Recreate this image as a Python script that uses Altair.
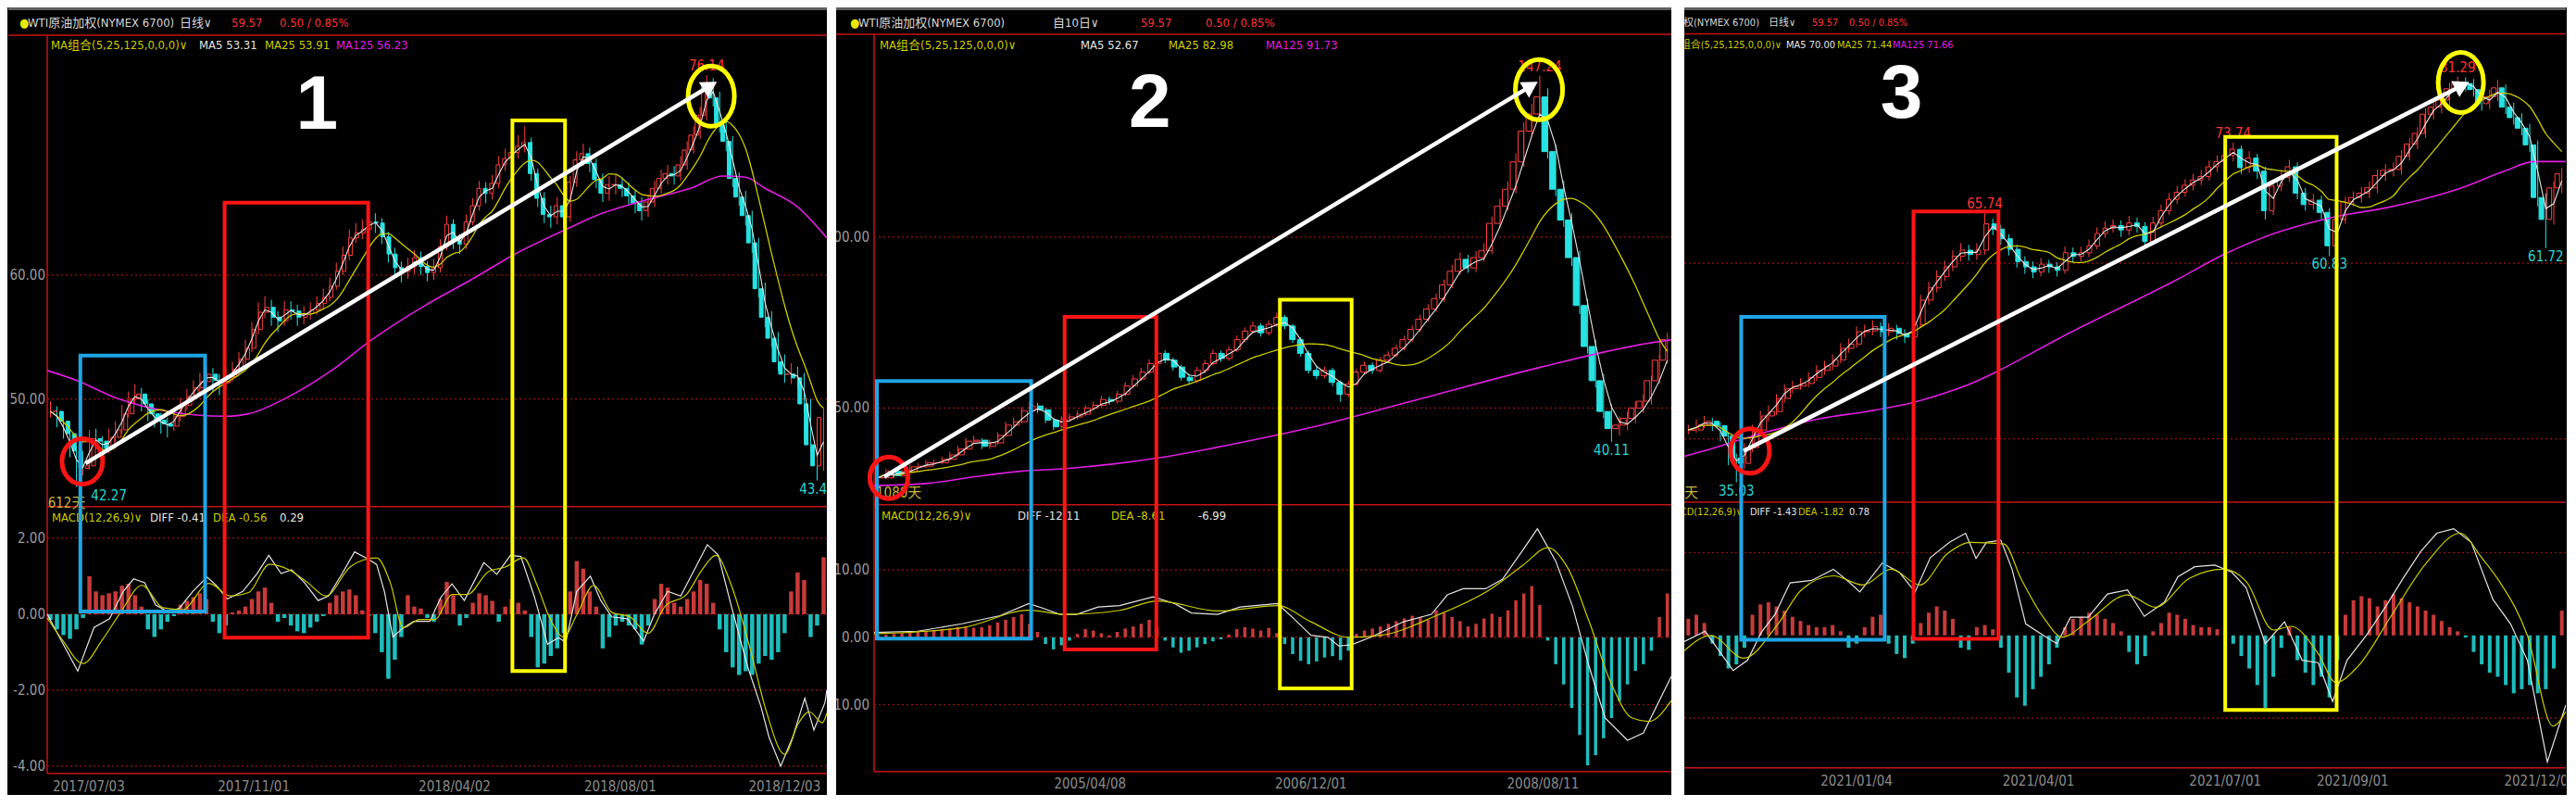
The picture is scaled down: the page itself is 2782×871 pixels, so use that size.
import math
import altair as alt
import pandas as pd

# ====================== PANEL 1 : WTI daily 2017-2018 ======================
p1_close = [49.0,48.2,47.2,45.8,44.4,44.6,46.8,46.6,46.0,46.9,
            47.5,48.8,50.0,50.4,49.6,48.8,48.3,48.0,47.8,48.6,
            49.5,50.2,50.9,51.4,52.0,51.5,51.3,51.8,52.4,53.2,
            54.1,55.6,57.0,57.4,56.6,56.3,57.2,57.1,56.6,56.9,
            57.2,57.7,58.2,59.1,60.3,61.6,63.0,63.4,63.7,64.3,
            64.2,63.1,61.7,60.6,60.3,60.7,61.4,60.7,60.2,60.6,
            62.3,64.1,62.8,62.5,64.3,65.6,67.0,66.6,67.4,68.9,
            69.4,69.9,70.4,70.7,68.2,66.2,64.9,64.7,65.6,64.7,
            67.5,69.3,69.8,69.0,67.7,66.6,67.3,67.3,67.0,66.4,
            65.8,65.2,65.9,67.0,67.8,68.2,68.0,68.9,70.1,71.3,
            72.9,75.3,74.3,72.1,70.8,67.8,66.3,64.8,62.6,58.9,
            56.6,54.9,53.0,52.0,52.0,51.7,49.6,46.3,44.6,48.5]
p1_high = [49.8,49.4,48.6,47.5,46.2,45.3,47.5,47.6,47.0,47.6,
           48.2,49.5,50.6,51.2,50.9,50.0,49.3,48.9,48.5,49.2,
           50.1,50.8,51.5,52.1,52.6,52.5,52.0,52.4,53.0,53.8,
           54.8,56.2,57.8,58.3,58.0,57.1,57.9,57.9,57.6,57.5,
           57.8,58.3,58.9,59.8,61.0,62.3,63.7,64.2,64.5,65.2,
           65.0,64.6,63.5,62.2,61.1,61.4,62.0,61.9,61.1,61.3,
           62.9,64.8,64.5,63.3,64.9,66.2,67.6,67.5,68.1,69.6,
           70.2,70.6,71.3,72.0,71.1,68.6,66.7,65.6,66.3,66.0,
           68.0,70.0,70.6,70.3,69.4,68.2,68.0,68.1,67.9,67.5,
           66.9,66.3,66.5,67.6,68.5,68.9,68.8,69.6,70.8,72.0,
           73.6,76.14,75.9,74.8,72.6,71.2,68.3,66.8,65.2,63.0,
           59.4,57.1,55.4,53.6,52.9,52.6,52.1,50.0,46.7,49.2]
p1_low = [48.5,47.7,46.8,45.3,42.9,43.8,44.3,46.0,45.5,45.6,
          46.5,47.2,48.5,49.6,49.0,48.2,47.7,47.2,46.9,47.4,
          48.2,49.1,49.8,50.5,51.0,50.6,50.3,50.8,51.4,52.0,
          52.8,53.8,55.2,56.5,55.9,55.4,55.9,56.4,55.9,56.0,
          56.4,56.8,57.3,57.9,58.8,60.0,61.2,62.6,62.9,63.2,
          63.4,62.5,61.0,59.9,59.4,59.7,60.1,60.0,59.5,59.6,
          60.2,62.0,62.1,61.7,62.1,64.0,65.2,65.8,66.1,67.0,
          68.4,68.8,69.4,69.9,67.6,65.5,64.2,63.8,64.1,63.8,
          64.3,67.1,68.8,68.3,67.0,65.9,66.0,66.5,66.3,65.7,
          65.0,64.4,64.7,65.5,66.6,67.3,67.3,67.6,68.5,69.8,
          71.0,72.5,73.6,71.5,70.0,67.1,65.6,64.0,61.8,58.2,
          55.8,54.2,52.3,51.3,51.2,50.9,48.9,45.6,43.42,44.2]
p1_hist = [-0.15,-0.4,-0.55,-0.65,-0.4,-0.1,1.0,0.6,0.5,0.55,
           0.6,0.75,0.8,0.5,0.2,-0.4,-0.6,-0.4,-0.2,-0.05,
           0.25,0.35,0.45,0.55,0.4,-0.2,-0.5,-0.3,0.05,0.1,
           0.2,0.4,0.6,0.7,0.3,-0.2,-0.1,-0.3,-0.45,-0.5,
           -0.35,-0.2,-0.05,0.3,0.5,0.6,0.65,0.5,0.1,-0.05,
           -0.5,-1.0,-1.7,-1.2,-0.6,0.5,0.2,0.15,-0.1,-0.2,
           0.4,0.85,0.5,-0.3,-0.1,0.3,0.55,0.5,0.35,-0.2,
           0.2,0.4,0.3,0.1,-0.6,-1.4,-1.3,-1.1,-0.9,-0.5,
           0.6,1.4,1.2,0.6,0.2,-0.9,-0.6,-0.3,-0.2,-0.3,
           -0.4,-0.8,-0.3,0.4,0.8,0.7,0.3,0.2,0.4,0.6,
           0.9,0.8,0.3,-0.4,-1.0,-1.4,-1.6,-1.5,-1.6,-1.3,
           -1.1,-1.2,-1.0,-0.5,0.6,1.1,0.9,-0.6,-0.3,1.5]
p1_ma125_idx = [-0.5,4,10,18,27,30.5,36,43,49.5,57.5,65,71.5,79,84,92,98.5,103.5,107,110,115,119.5]
p1_ma125 = [52.3,51.5,50.1,49.0,48.6,48.8,50.0,52.2,54.8,57.5,59.7,61.7,63.6,64.8,66.1,67.0,68.0,67.9,67.0,65.5,63.0]
p1_diff_idx = [-0.5,1.8,4.2,6.7,9.1,11.2,12.8,14.5,16.2,18.2,19.9,21.9,24.1,25.5,27.2,29.6,31.8,33.6,35.5,37.1,
               39.1,41.2,42.8,44.9,46.8,48.6,50.2,51.4,52.7,54.3,55.9,58.4,60.1,61.8,63.7,66.7,68.7,70.8,72.4,74.5,
               76.5,78.2,79.3,81.0,83.1,84.7,86.4,88.8,91.3,92.9,95.0,97.0,99.1,101.1,102.8,104.8,107.3,109.3,110.6,112.4,
               114.3,116.1,117.5,119.2,119.5]
p1_diff = [0.0,-0.74,-1.5,-0.35,-0.12,0.6,0.93,0.83,0.24,0.05,0.17,0.6,0.98,0.76,0.4,0.6,1.07,1.55,1.07,1.17,
           0.83,0.36,0.48,1.07,1.64,1.48,1.31,0.6,-0.6,-0.36,-0.19,-0.19,0.45,0.8,0.36,1.36,1.05,1.55,1.52,0.45,
           -0.79,-0.62,-0.74,0.6,1.0,0.36,-0.07,-0.12,-0.71,-0.02,0.6,0.48,1.17,1.83,1.55,0.21,-1.38,-2.4,-3.24,-4.0,
           -3.21,-2.21,-3.05,-2.33,-2.0]
p1_dea_idx = [-0.5,1.8,5.0,8.0,10.8,14.1,17.3,20.3,24.4,27.7,30.5,33.7,36.7,39.6,42.4,46.1,48.2,50.2,52.3,54.3,
              56.8,59.2,61.8,64.2,67.4,70.0,72.8,74.9,76.9,79.0,81.0,83.6,86.4,89.2,92.0,94.6,97.9,100.3,102.4,104.8,
              107.8,110.2,113.0,115.1,116.8,118.8,119.5]
p1_dea = [-0.1,-0.67,-1.3,-0.67,0.05,0.76,0.17,0.12,0.81,0.48,0.57,1.31,1.17,0.83,0.48,1.24,1.43,1.48,0.83,-0.36,
          -0.14,-0.14,0.52,0.52,1.12,1.24,1.48,0.76,-0.12,-0.6,-0.02,0.76,0.05,-0.07,-0.5,0.21,0.52,1.17,1.55,0.76,
          -0.98,-2.57,-3.69,-2.88,-2.57,-2.86,-2.6]
p1_date_idx = [5.9, 31.3, 62.2, 87.7, 113.0]
p1_dates = ["2017/07/03", "2017/11/01", "2018/04/02", "2018/08/01", "2018/12/03"]

# ====================== PANEL 2 : WTI 10-day bars 2003-2009 ======================
p2_close = [29.6,31.5,30.2,31.4,32.8,33.0,34.0,34.0,35.0,36.3,
            38.0,40.3,40.6,38.8,39.8,42.0,45.0,46.0,49.2,50.6,
            49.5,46.5,44.5,46.8,47.4,48.2,50.0,50.8,52.5,52.0,
            54.0,56.5,58.5,60.5,63.0,66.0,64.0,62.0,59.0,58.0,
            61.0,63.0,66.0,64.5,67.0,70.0,72.5,74.0,72.0,74.5,
            76.5,74.0,70.0,66.0,61.0,59.5,61.0,57.5,54.0,57.0,
            60.5,62.5,61.0,64.0,65.5,67.5,70.0,73.0,76.0,79.0,
            82.0,86.0,90.0,93.5,91.0,94.0,96.0,104.0,109.0,114.0,
            122.0,131.0,136.0,141.0,125.0,114.0,105.0,94.0,80.0,68.0,
            58.0,49.0,44.0,45.0,47.0,50.0,52.0,58.0,64.0,70.0]
p2_high = [30.4,32.2,31.9,32.0,33.5,33.9,34.8,34.9,35.8,37.2,
           38.9,41.3,41.9,41.2,40.8,42.9,46.0,47.2,50.3,51.9,
           51.5,50.0,47.1,47.6,48.4,49.2,50.9,51.9,53.6,53.4,
           55.0,57.6,59.7,61.8,64.3,67.6,66.9,64.8,62.7,60.0,
           62.0,64.1,67.2,66.8,68.1,71.2,73.6,75.3,74.8,75.6,
           77.9,77.3,74.6,70.7,66.8,62.0,62.1,61.8,58.1,58.0,
           61.4,63.6,63.3,65.0,66.6,68.6,71.1,74.2,77.3,80.4,
           83.5,87.6,91.8,95.5,94.8,96.0,98.2,106.0,111.2,116.3,
           124.5,133.6,139.0,147.24,143.5,127.0,116.5,107.0,96.0,82.0,
           70.0,60.0,51.0,47.5,49.0,52.0,54.0,59.5,65.5,72.0]
p2_low = [28.9,29.2,29.6,29.8,31.0,32.2,32.5,33.2,33.5,34.6,
          35.9,37.6,39.5,38.0,38.1,39.2,41.5,44.3,45.5,48.5,
          48.6,45.6,43.6,44.0,46.0,46.7,47.6,49.2,50.2,51.0,
          51.3,53.4,55.8,57.9,59.8,62.3,63.0,61.0,58.0,56.9,
          57.3,60.2,62.4,63.5,63.8,66.4,69.3,71.7,70.9,71.2,
          73.8,73.0,69.0,65.0,60.0,58.4,58.7,56.4,51.8,53.2,
          56.4,59.8,60.0,60.4,63.2,64.8,66.8,69.3,72.2,75.2,
          78.2,81.0,85.0,89.0,89.6,89.8,92.8,95.0,102.8,107.8,
          112.8,120.5,129.4,134.5,123.0,112.0,103.0,91.5,77.5,66.0,
          56.0,47.0,40.11,42.0,43.5,45.5,48.5,51.0,57.0,63.0]
p2_hist = [0.3,0.4,0.5,0.6,0.7,0.8,0.9,1.0,1.2,1.3,
           1.5,1.6,1.4,1.5,1.8,2.2,2.6,3.0,3.4,2.0,
           0.8,-1.0,-1.8,-1.2,-0.5,0.5,1.2,1.0,0.6,0.3,
           0.8,1.3,1.6,2.0,2.6,1.5,-0.5,-1.5,-2.3,-2.0,
           -1.5,-1.0,-0.6,-0.3,0.4,1.2,1.5,1.3,1.0,1.4,
           0.6,-1.0,-2.5,-3.5,-4.0,-3.6,-3.0,-2.8,-3.4,-2.0,
           0.5,1.0,1.3,1.6,2.0,2.4,2.8,3.2,3.0,2.6,
           4.0,3.6,3.0,2.4,1.6,2.0,2.8,3.5,3.0,4.0,
           5.5,6.5,7.6,4.8,-0.5,-4.0,-7.0,-10.5,-14.5,-19.0,
           -17.5,-15.0,-12.0,-9.5,-7.0,-5.0,-4.0,-2.0,3.0,6.5]
p2_ma125_idx = [-0.5,6.3,12.1,17.8,23.6,29.4,35.1,46.1,54.6,66.9,83.2,95.5,99.5]
p2_ma125 = [27.3,28.0,29.9,31.5,32.3,33.6,35.4,40.2,44.5,52.0,62.0,68.5,70.0]
p2_diff_idx = [-0.5,5.0,10.5,15.3,18.9,20.7,22.8,24.9,27.6,30.3,34.5,37.2,39.3,42.6,45.4,50.1,52.2,54.3,56.4,57.8,
               59.4,61.8,65.9,69.4,71.4,73.4,76.2,78.3,80.9,82.7,85.0,87.1,89.2,91.2,94.0,96.0,99.5]
p2_diff = [0.7,0.9,2.0,3.2,5.0,4.3,3.4,3.4,4.5,4.7,6.0,5.0,3.6,3.4,4.5,5.0,2.7,0.3,0.0,-1.3,
           -1.1,0.0,2.3,3.4,6.3,7.2,7.2,8.6,13.0,16.1,11.3,4.6,-4.4,-12.0,-15.3,-14.2,-5.8]
p2_dea_idx = [-0.5,10.5,18.9,23.5,30.3,35.1,42.6,50.1,54.3,59.0,63.1,70.0,76.9,80.9,84.0,86.5,89.2,91.9,94.6,96.7,99.5]
p2_dea = [0.5,1.4,4.0,3.4,4.0,5.4,3.9,4.7,2.3,0.0,0.3,3.2,7.2,10.7,13.3,10.3,2.3,-6.7,-12.0,-12.5,-9.4]
p2_date_idx = [26.6, 54.3, 83.4]
p2_dates = ["2005/04/08", "2006/12/01", "2008/08/11"]

# ====================== PANEL 3 : WTI daily 2020-2021 ======================
p3_close = [41.0,41.6,42.0,41.5,40.3,37.8,37.2,39.0,41.0,42.6,
            43.1,44.6,45.7,46.0,46.3,47.0,47.8,48.3,49.0,50.3,
            50.8,52.2,52.3,52.8,52.2,52.6,52.0,51.6,53.0,55.8,
            57.2,58.5,59.6,60.8,61.5,61.0,61.5,64.5,63.9,62.8,
            61.6,60.2,59.6,59.0,59.9,59.6,59.2,61.2,60.8,61.2,
            62.0,63.4,64.0,64.3,63.8,64.6,64.2,62.5,64.6,66.0,
            67.3,68.1,68.9,69.5,69.9,71.0,71.6,72.3,73.0,70.9,
            72.0,70.5,66.0,68.8,69.8,71.0,68.0,66.7,67.2,65.8,
            62.0,65.0,67.0,67.5,68.0,68.6,70.0,70.6,70.7,72.2,
            73.6,74.8,77.0,77.8,78.6,79.9,80.6,80.5,79.8,78.2,
            79.0,80.0,77.8,76.6,75.4,73.5,67.5,65.0,68.6,70.2]
p3_high = [41.6,42.2,42.6,42.4,41.9,40.7,38.3,39.5,41.6,43.2,
           43.8,45.1,46.2,46.6,46.9,47.6,48.4,48.9,49.6,50.9,
           51.4,52.8,53.0,53.5,53.3,53.2,53.0,52.5,53.6,56.4,
           57.9,59.2,60.3,61.5,62.3,62.1,62.3,65.74,65.1,64.4,
           63.3,62.1,60.8,60.2,60.6,60.4,60.1,61.9,61.8,61.9,
           62.7,64.1,64.8,65.0,64.9,65.4,65.2,64.7,65.3,66.7,
           68.0,68.8,69.6,70.2,70.6,71.7,72.3,73.0,73.74,73.4,
           72.8,72.5,71.0,69.5,70.6,71.8,71.5,68.6,67.9,67.7,
           66.3,65.7,67.6,68.2,68.7,69.3,70.7,71.3,71.5,72.9,
           74.3,75.5,77.7,78.6,79.4,80.6,81.29,81.2,81.0,80.2,
           79.8,80.9,80.4,78.3,77.1,75.9,74.0,68.0,69.3,70.9]
p3_low = [40.5,40.7,41.2,40.9,39.7,37.0,35.03,36.6,38.5,40.6,
          42.0,42.7,44.1,45.2,45.6,45.9,46.6,47.3,47.8,48.6,
          49.8,50.4,51.6,51.8,51.6,51.7,51.3,50.9,51.1,52.6,
          55.3,56.7,58.0,59.1,60.2,60.3,60.4,61.0,63.2,62.1,
          60.9,59.5,58.8,58.3,58.5,58.9,58.5,58.8,60.1,60.2,
          60.7,61.6,62.9,63.5,63.0,63.2,63.5,61.8,62.1,64.1,
          65.5,66.8,67.6,68.3,68.9,69.4,70.4,71.0,71.6,70.2,
          70.3,69.6,65.0,65.5,68.2,69.3,67.3,66.0,66.1,65.0,
          60.83,61.5,64.5,66.5,66.9,67.4,68.0,69.4,69.9,70.1,
          71.7,73.0,74.3,76.4,77.1,78.0,79.3,79.6,79.0,77.4,
          77.6,78.5,77.0,75.8,74.6,72.7,66.5,61.72,64.4,68.0]
p3_hist = [0.4,0.5,0.3,-0.2,-0.5,-0.8,-0.7,-0.3,0.5,0.75,
           0.8,0.7,0.6,0.45,0.35,0.25,0.2,0.2,0.25,0.1,
           -0.3,-0.2,0.2,0.45,0.5,-0.2,-0.45,-0.55,-0.2,0.3,
           0.55,0.7,0.6,0.4,-0.3,-0.35,0.2,0.25,0.15,-0.3,
           -0.9,-1.5,-1.7,-1.3,-1.0,-0.7,-0.3,0.2,0.4,0.45,
           0.55,0.5,0.4,0.3,0.1,-0.4,-0.7,-0.5,0.1,0.3,
           0.55,0.5,0.4,0.25,0.2,0.2,0.15,0.1,-0.2,-0.5,
           -0.8,-1.2,-1.75,-1.0,-0.3,0.2,-0.6,-0.9,-1.2,-1.0,
           -1.5,-0.6,0.5,0.85,0.95,0.9,0.7,0.85,1.0,0.9,
           0.8,0.7,0.6,0.5,0.35,0.2,0.1,-0.05,-0.4,-0.7,
           -0.9,-1.0,-1.2,-1.4,-1.3,-1.2,-1.4,-1.3,-0.8,0.6]
p3_ma125_idx = [-0.5,3.0,6.9,10.7,16.5,22.2,27.9,33.6,48.5,61.1,66.8,73.1,80.2,88.0,96.5,102.1,105.6,109.5]
p3_ma125 = [38.0,38.9,40.0,41.0,42.3,43.1,44.1,45.7,52.5,58.2,61.0,63.4,65.2,66.5,68.6,70.6,71.6,71.6]
p3_diff_idx = [-0.5,2.1,5.6,7.4,9.1,10.8,12.7,15.4,18.1,20.0,21.4,24.2,26.3,28.3,30.2,32.6,34.6,35.9,37.2,39.0,
               40.4,42.1,44.3,46.0,47.7,49.9,52.3,54.8,56.9,59.4,61.1,63.2,65.7,67.8,69.6,72.0,74.4,76.6,78.6,80.4,
               82.2,84.6,87.1,89.2,91.4,93.4,95.5,97.7,100.4,102.6,104.7,107.2,109.5]
p3_diff = [-0.15,0.1,-0.85,-0.6,0.07,0.5,1.27,1.33,1.6,1.3,1.05,1.75,1.53,1.05,1.88,2.25,2.47,1.86,2.25,2.3,
           1.6,0.28,0.0,-0.2,0.44,0.44,1.0,1.1,0.46,0.8,1.42,1.66,1.7,1.53,1.16,-0.2,0.33,-0.6,-0.66,-1.6,
           -0.6,0.0,0.72,1.38,2.03,2.47,2.58,2.25,0.87,0.28,-0.6,-3.06,-1.68]
p3_dea_idx = [-0.5,2.8,6.9,11.2,14.1,18.1,21.8,25.3,28.9,32.3,35.2,39.4,41.5,44.3,46.7,49.9,54.8,58.3,62.5,66.8,
              69.6,73.0,75.2,78.6,80.8,83.6,87.8,92.1,96.3,99.0,101.2,104.7,107.9,109.5]
p3_dea = [-0.37,0.0,-0.55,0.28,1.1,1.44,1.22,1.6,1.22,1.97,2.25,2.21,1.38,0.44,-0.04,0.35,0.98,0.68,1.38,1.6,
          1.31,0.13,0.22,-0.44,-1.14,-0.74,0.5,1.75,2.47,1.88,1.31,0.0,-2.19,-1.84]
p3_date_idx = [21.0, 43.7, 67.0, 82.9, 106.3]
p3_dates = ["2021/01/04", "2021/04/01", "2021/07/01", "2021/09/01", "2021/12/01"]

# ====================== styling ======================
FONT = "Liberation Sans Narrow, DejaVu Sans Condensed, Noto Sans CJK SC, sans-serif"
BIG = "Liberation Sans, Arial, sans-serif"
UP = "#ff4040"; DN = "#28e2e2"; HPOS = "#c93a3a"; HNEG = "#1fbcbc"
GRID = "#a01010"; AXR = "#c41414"; LBL = "#9c9c9c"; DLBL = "#8c8c8c"
YEL = "#cccc00"; MAG = "#e01ee0"; WHT = "#e6e6e6"; RED = "#ff3434"; CYN = "#2ad4d4"
BLUE = "#1ea6e6"; BOXRED = "#ff1414"; BOXYEL = "#ffff00"; DAYS = "#c8b43c"
H = 850


def lin(v, d, r):
    return r[0] + (v - d[0]) * (r[1] - r[0]) / (d[1] - d[0])


def inv(p, d, r):
    return d[0] + (p - r[0]) * (d[1] - d[0]) / (r[1] - r[0])


def ellipse_path(w, h):
    a = w / h
    return f"M {-a:.3f},0 A {a:.3f},1 0 1,0 {a:.3f},0 A {a:.3f},1 0 1,0 {-a:.3f},0 Z"


def panel(P):
    W = P["W"]
    xs = alt.Scale(domain=P["xdom"], range=P["xrange"], nice=False, zero=False)
    ps = alt.Scale(domain=P["pdom"], range=P["prange"], nice=False, zero=False)
    ms = alt.Scale(domain=P["mdom"], range=P["mrange"], nice=False, zero=False)
    X = alt.X("i:Q", scale=xs, axis=None)
    n = len(P["close"])
    bars = pd.DataFrame({"i": list(range(n)), "close": P["close"], "high": P["high"],
                         "low": P["low"], "hist": P["hist"]})
    base = alt.Chart(bars)
    ohlc = base.transform_window(prev="lag(close)", sort=[alt.SortField("i")]).transform_calculate(
        open="datum.prev == null ? datum.close : datum.prev",
        hi="max(datum.high, datum.close, datum.prev == null ? datum.close : datum.prev)",
        lo="min(datum.low, datum.close, datum.prev == null ? datum.close : datum.prev)",
    )
    upc = "datum.close >= datum.open"
    one = pd.DataFrame({"k": [0]})
    L = []

    # chrome
    L.append(alt.Chart(one).mark_rect(color="#5e5e5e").encode(
        x=alt.value(0), x2=alt.value(W), y=alt.value(0), y2=alt.value(3)))
    L.append(alt.Chart(one).mark_rule(color=AXR, strokeWidth=1.5).encode(
        x=alt.value(0), x2=alt.value(W), y=alt.value(P["y_hdr"])))
    for yy in (P["y_sep"], P["y_bot"]):
        L.append(alt.Chart(one).mark_rule(color=AXR, strokeWidth=1.5).encode(
            x=alt.value(P["ax"]), x2=alt.value(W), y=alt.value(yy)))
    if P["axis_line"]:
        L.append(alt.Chart(one).mark_rule(color=AXR, strokeWidth=1.5).encode(
            x=alt.value(P["ax"]), y=alt.value(P["y_hdr"]), y2=alt.value(P["y_bot"])))

    # grid lines + labels
    for vals, lbls, sc in ((P["pgrid"], P["plbl"], ps), (P["mgrid"], P["mlbl"], ms)):
        g = pd.DataFrame({"v": vals})
        L.append(alt.Chart(g).mark_rule(color=GRID, strokeDash=[2, 3], strokeWidth=1.2, clip=True).encode(
            y=alt.Y("v:Q", scale=sc, axis=None), x=alt.value(P["ax"]), x2=alt.value(W)))
        if lbls:
            g2 = pd.DataFrame({"v": vals, "t": lbls})
            L.append(alt.Chart(g2).mark_text(align="right", baseline="middle", font=FONT, fontSize=15,
                                             color=LBL, clip=True).encode(
                y=alt.Y("v:Q", scale=sc, axis=None), x=alt.value(P["lblx"]), text="t:N"))

    # MACD histogram + lines
    L.append(base.transform_calculate(z="0").mark_rule(strokeWidth=P["hw"], clip=True).encode(
        X, y=alt.Y("z:Q", scale=ms, axis=None), y2="hist:Q",
        color=alt.condition("datum.hist >= 0", alt.value(HPOS), alt.value(HNEG))))
    L.append(alt.Chart(pd.DataFrame({"i": P["diffi"], "v": P["diff"]})).mark_line(
        color=WHT, strokeWidth=1.2, clip=True).encode(X, y=alt.Y("v:Q", scale=ms, axis=None)))
    L.append(alt.Chart(pd.DataFrame({"i": P["deai"], "v": P["dea"]})).mark_line(
        color=YEL, strokeWidth=1.2, interpolate="monotone", clip=True).encode(
        X, y=alt.Y("v:Q", scale=ms, axis=None)))

    # candles
    L.append(ohlc.mark_rule(strokeWidth=1, clip=True).encode(
        X, y=alt.Y("lo:Q", scale=ps, axis=None), y2="hi:Q",
        color=alt.condition(upc, alt.value(UP), alt.value(DN))))
    L.append(ohlc.mark_bar(size=P["bw"], strokeWidth=1, clip=True).encode(
        X, y=alt.Y("open:Q", scale=ps, axis=None), y2="close:Q",
        fill=alt.condition(upc, alt.value("black"), alt.value(DN)),
        stroke=alt.condition(upc, alt.value(UP), alt.value(DN))))

    # moving averages
    L.append(alt.Chart(pd.DataFrame({"i": P["m125i"], "v": P["m125"]})).mark_line(
        color=MAG, strokeWidth=1.6, interpolate="monotone", clip=True).encode(
        X, y=alt.Y("v:Q", scale=ps, axis=None)))
    L.append(base.transform_window(ma="mean(close)", frame=P["f25"], sort=[alt.SortField("i")]).mark_line(
        color=YEL, strokeWidth=1.3, interpolate="monotone", clip=True).encode(
        X, y=alt.Y("ma:Q", scale=ps, axis=None)))
    L.append(base.transform_window(ma="mean(close)", frame=P["f5"], sort=[alt.SortField("i")]).mark_line(
        color=WHT, strokeWidth=1.1, clip=True).encode(X, y=alt.Y("ma:Q", scale=ps, axis=None)))

    # price extreme labels
    for pos, baseline, dy in (("a", "bottom", -2), ("b", "top", 2)):
        rows = [r for r in P["marks"] if r[3] == pos]
        if rows:
            d = pd.DataFrame({"i": [r[0] for r in rows], "v": [r[1] for r in rows],
                              "t": [r[2] for r in rows], "c": [r[4] for r in rows]})
            L.append(alt.Chart(d).mark_text(font=FONT, fontSize=15, baseline=baseline, dy=dy,
                                            align="center", clip=True).encode(
                X, y=alt.Y("v:Q", scale=ps, axis=None), text="t:N", color=alt.Color("c:N", scale=None)))
    d = pd.DataFrame({"i": [P["days"][0]], "v": [P["days"][1]], "t": [P["days"][2]]})
    L.append(alt.Chart(d).mark_text(font=FONT, fontSize=15, align="left", baseline="middle",
                                    color=DAYS, clip=True).encode(
        X, y=alt.Y("v:Q", scale=ps, axis=None), text="t:N"))

    # date labels
    d = pd.DataFrame({"i": P["date_idx"], "t": P["dates"]})
    L.append(alt.Chart(d).mark_text(font=FONT, fontSize=15, baseline="middle", align="center",
                                    color=DLBL, clip=True).encode(X, y=alt.value(P["y_date"]), text="t:N"))

    # header / legends
    for al in ("left", "right"):
        rows = [r for r in P["texts"] if r[4] == al]
        if rows:
            d = pd.DataFrame({"t": [r[0] for r in rows], "px": [r[1] for r in rows],
                              "py": [r[2] for r in rows], "c": [r[3] for r in rows]})
            L.append(alt.Chart(d).mark_text(font=FONT, fontSize=P["fs"], align=al, baseline="middle",
                                            clip=True).encode(
                x=alt.X("px:Q", scale=None), y=alt.Y("py:Q", scale=None), text="t:N",
                color=alt.Color("c:N", scale=None)))

    # annotation boxes
    bx = pd.DataFrame({"x0": [b[0] for b in P["boxes"]], "x1": [b[1] for b in P["boxes"]],
                       "y0": [b[2] for b in P["boxes"]], "y1": [b[3] for b in P["boxes"]],
                       "c": [b[4] for b in P["boxes"]]})
    L.append(alt.Chart(bx).mark_rect(fillOpacity=0, strokeWidth=4, clip=True).encode(
        x=alt.X("x0:Q", scale=xs, axis=None), x2="x1:Q",
        y=alt.Y("y0:Q", scale=ps, axis=None), y2="y1:Q", stroke=alt.Stroke("c:N", scale=None)))

    # circles
    for (ci, cv, w, h, col) in P["circles"]:
        L.append(alt.Chart(pd.DataFrame({"i": [ci], "v": [cv]})).mark_point(
            shape=ellipse_path(w, h), size=h * h, filled=False, strokeWidth=5, color=col,
            opacity=1, clip=True).encode(X, y=alt.Y("v:Q", scale=ps, axis=None)))

    # arrow
    (a0, b0), (a1, b1) = P["arrow"]
    px0, py0 = lin(a0, P["xdom"], P["xrange"]), lin(b0, P["pdom"], P["prange"])
    px1, py1 = lin(a1, P["xdom"], P["xrange"]), lin(b1, P["pdom"], P["prange"])
    Ln = math.hypot(px1 - px0, py1 - py0)
    ux, uy = (px1 - px0) / Ln, (py1 - py0) / Ln
    hx, hy = px1 - ux * 7, py1 - uy * 7
    ex, ey = px1 - ux * 12, py1 - uy * 12
    ang = math.degrees(math.atan2(ux, -uy))
    dl = pd.DataFrame({"x0": [a0], "y0": [b0],
                       "x1": [inv(ex, P["xdom"], P["xrange"])], "y1": [inv(ey, P["pdom"], P["prange"])]})
    L.append(alt.Chart(dl).mark_rule(color="white", strokeWidth=4.5, clip=True).encode(
        x=alt.X("x0:Q", scale=xs, axis=None), x2="x1:Q", y=alt.Y("y0:Q", scale=ps, axis=None), y2="y1:Q"))
    dh = pd.DataFrame({"i": [inv(hx, P["xdom"], P["xrange"])], "v": [inv(hy, P["pdom"], P["prange"])]})
    L.append(alt.Chart(dh).mark_point(shape="triangle-up", size=380, filled=True, color="white",
                                      opacity=1, angle=ang, clip=True).encode(
        X, y=alt.Y("v:Q", scale=ps, axis=None)))

    # big panel number
    d = pd.DataFrame({"i": [P["big"][0]], "v": [P["big"][1]], "t": [P["big"][2]]})
    L.append(alt.Chart(d).mark_text(font=BIG, fontWeight="bold", fontSize=82, color="white",
                                    align="center", baseline="middle", clip=True).encode(
        X, y=alt.Y("v:Q", scale=ps, axis=None), text="t:N"))

    return alt.layer(*L).resolve_scale(x="independent", y="independent", color="independent",
                                       stroke="independent", fill="independent").properties(width=W, height=H)


P1 = dict(
    W=884, xdom=[-0.5, 119.5], xrange=[42, 884], pdom=[40, 80], prange=[556.3, 21.5],
    mdom=[-4, 2], mrange=[818.9, 572.9], ax=42, lblx=40, axis_line=True,
    y_hdr=30, y_sep=538.8, y_bot=826.7, y_date=841, fs=13, bw=4, hw=4.5,
    close=p1_close, high=p1_high, low=p1_low, hist=p1_hist,
    m125i=p1_ma125_idx, m125=p1_ma125, diffi=p1_diff_idx, diff=p1_diff, deai=p1_dea_idx, dea=p1_dea,
    f5=[-1, 0], f25=[-6, 0],
    pgrid=[60, 50], plbl=["60.00", "50.00"], mgrid=[2, 0, -2, -4], mlbl=["2.00", "0.00", "-2.00", "-4.00"],
    date_idx=p1_date_idx, dates=p1_dates,
    marks=[(101, 76.14, "76.14", "a", RED), (118, 43.42, "43.42", "b", CYN), (9.0, 42.9, "42.27", "b", CYN)],
    days=(-0.4, 41.6, "612天"),
    texts=[("●", 12, 17, "#e8e800", "left"), ("WTI原油加权(NYMEX 6700)", 21, 17, "#d8d8d8", "left"),
           ("日线∨", 185, 17, "#d8d8d8", "left"), ("59.57", 241, 17, RED, "left"),
           ("0.50 / 0.85%", 293, 17, RED, "left"),
           ("MA组合(5,25,125,0,0,0)∨", 46, 41, YEL, "left"), ("MA5 53.31", 206, 41, WHT, "left"),
           ("MA25 53.91", 277, 41, YEL, "left"), ("MA125 56.23", 354, 41, MAG, "left"),
           ("MACD(12,26,9)∨", 47, 551, YEL, "left"), ("DIFF -0.41", 153, 551, WHT, "left"),
           ("DEA -0.56", 221, 551, YEL, "left"), ("0.29", 293, 551, WHT, "left")],
    boxes=[(4.6, 23.8, 53.5, 32.85, BLUE), (26.8, 48.9, 65.84, 30.73, BOXRED),
           (71.1, 79.2, 72.48, 28.03, BOXYEL)],
    circles=[(4.9, 44.96, 44, 49, BOXRED), (101.7, 74.45, 50, 65, BOXYEL)],
    arrow=((5.4, 44.8), (102.4, 75.55)),
    big=(41.0, 73.7, "1"),
)

P2 = dict(
    W=902, xdom=[-0.5, 99.5], xrange=[41, 902], pdom=[50, 100], prange=[432.4, 247.9],
    mdom=[-10, 10], mrange=[752.5, 607.1], ax=41, lblx=36, axis_line=True,
    y_hdr=29, y_sep=536.8, y_bot=824.7, y_date=838.4, fs=13, bw=6, hw=3.5,
    close=p2_close, high=p2_high, low=p2_low, hist=p2_hist,
    m125i=p2_ma125_idx, m125=p2_ma125, diffi=p2_diff_idx, diff=p2_diff, deai=p2_dea_idx, dea=p2_dea,
    f5=[-2, 0], f25=[-14, 0],
    pgrid=[100, 50], plbl=["100.00", "50.00"], mgrid=[10, 0, -10], mlbl=["10.00", "0.00", "-10.00"],
    date_idx=p2_date_idx, dates=p2_dates,
    marks=[(83, 147.24, "147.24", "a", RED), (92, 40.11, "40.11", "b", CYN)],
    days=(-0.27, 25.1, "1080天"),
    texts=[("●", 15, 17, "#e8e800", "left"), ("WTI原油加权(NYMEX 6700)", 24, 17, "#d8d8d8", "left"),
           ("自10日∨", 234, 17, "#d8d8d8", "left"), ("59.57", 329, 17, RED, "left"),
           ("0.50 / 0.85%", 399, 17, RED, "left"),
           ("MA组合(5,25,125,0,0,0)∨", 47, 41, YEL, "left"), ("MA5 52.67", 264, 41, WHT, "left"),
           ("MA25 82.98", 359, 41, YEL, "left"), ("MA125 91.73", 464, 41, MAG, "left"),
           ("MACD(12,26,9)∨", 49, 548.5, YEL, "left"), ("DIFF -12.11", 196, 548.5, WHT, "left"),
           ("DEA -8.61", 297, 548.5, YEL, "left"), ("-6.99", 391, 548.5, WHT, "left")],
    boxes=[(-0.15, 19.2, 57.9, -17.46, BLUE), (23.4, 34.9, 76.7, -20.6, BOXRED),
           (50.4, 59.4, 81.7, -32.0, BOXYEL)],
    circles=[(1.35, 29.6, 41, 45, BOXRED), (82.9, 143.1, 51, 65, BOXYEL)],
    arrow=((0.77, 29.9), (82.6, 145.2)),
    big=(34.1, 138.9, "2"),
)

P3 = dict(
    W=952, xdom=[-0.5, 109.5], xrange=[0, 952], pdom=[40, 60], prange=[465.6, 276.2],
    mdom=[-2, 2], mrange=[767.1, 588.5], ax=0, lblx=0, axis_line=False,
    y_hdr=28.5, y_sep=533.9, y_bot=820.8, y_date=834.5, fs=11, bw=5, hw=4,
    close=p3_close, high=p3_high, low=p3_low, hist=p3_hist,
    m125i=p3_ma125_idx, m125=p3_ma125, diffi=p3_diff_idx, diff=p3_diff, deai=p3_dea_idx, dea=p3_dea,
    f5=[-1, 0], f25=[-8, 0],
    pgrid=[60, 40], plbl=None, mgrid=[2, -2], mlbl=None,
    date_idx=p3_date_idx, dates=p3_dates,
    marks=[(96, 81.29, "81.29", "a", RED), (37, 65.74, "65.74", "a", RED), (68, 73.74, "73.74", "a", RED),
           (80, 60.83, "60.83", "b", CYN), (107, 61.72, "61.72", "b", CYN), (6, 35.03, "35.03", "b", CYN)],
    days=(-0.5, 33.8, "天"),
    texts=[("● WTI原油加权(NYMEX 6700)", 81, 17, "#d8d8d8", "right"), ("日线∨", 91, 17, "#d8d8d8", "left"),
           ("59.57", 138, 17, RED, "left"), ("0.50 / 0.85%", 178, 17, RED, "left"),
           ("MA组合(5,25,125,0,0,0)∨", 105, 41, YEL, "right"), ("MA5 70.00", 110, 41, WHT, "left"),
           ("MA25 71.44", 165, 41, YEL, "left"), ("MA125 71.66", 225, 41, MAG, "left"),
           ("MACD(12,26,9)∨", 63, 544.6, YEL, "right"), ("DIFF -1.43", 71, 544.6, WHT, "left"),
           ("DEA -1.82", 123, 544.6, YEL, "left"), ("0.78", 178, 544.6, WHT, "left")],
    boxes=[(6.6, 24.5, 53.9, 17.1, BLUE), (28.1, 38.7, 65.9, 17.2, BOXRED),
           (67.0, 80.9, 74.4, 9.1, BOXYEL)],
    circles=[(7.7, 38.6, 42, 48, BOXRED), (96.4, 80.6, 49, 65, BOXYEL)],
    arrow=((6.9, 38.6), (97.3, 80.6)),
    big=(26.6, 79.2, "3"),
)


def gap(w):
    return alt.Chart(pd.DataFrame({"k": [0]})).mark_rect(color="white").encode(
        x=alt.value(0), x2=alt.value(w), y=alt.value(0), y2=alt.value(H)).properties(width=w, height=H)


chart = alt.hconcat(panel(P1), gap(10), panel(P2), gap(14), panel(P3), spacing=0, bounds="flush").properties(
    padding=0, background="black").configure_view(strokeWidth=0)

chart.save("out.html", embed_options={"renderer": "svg", "actions": False})
